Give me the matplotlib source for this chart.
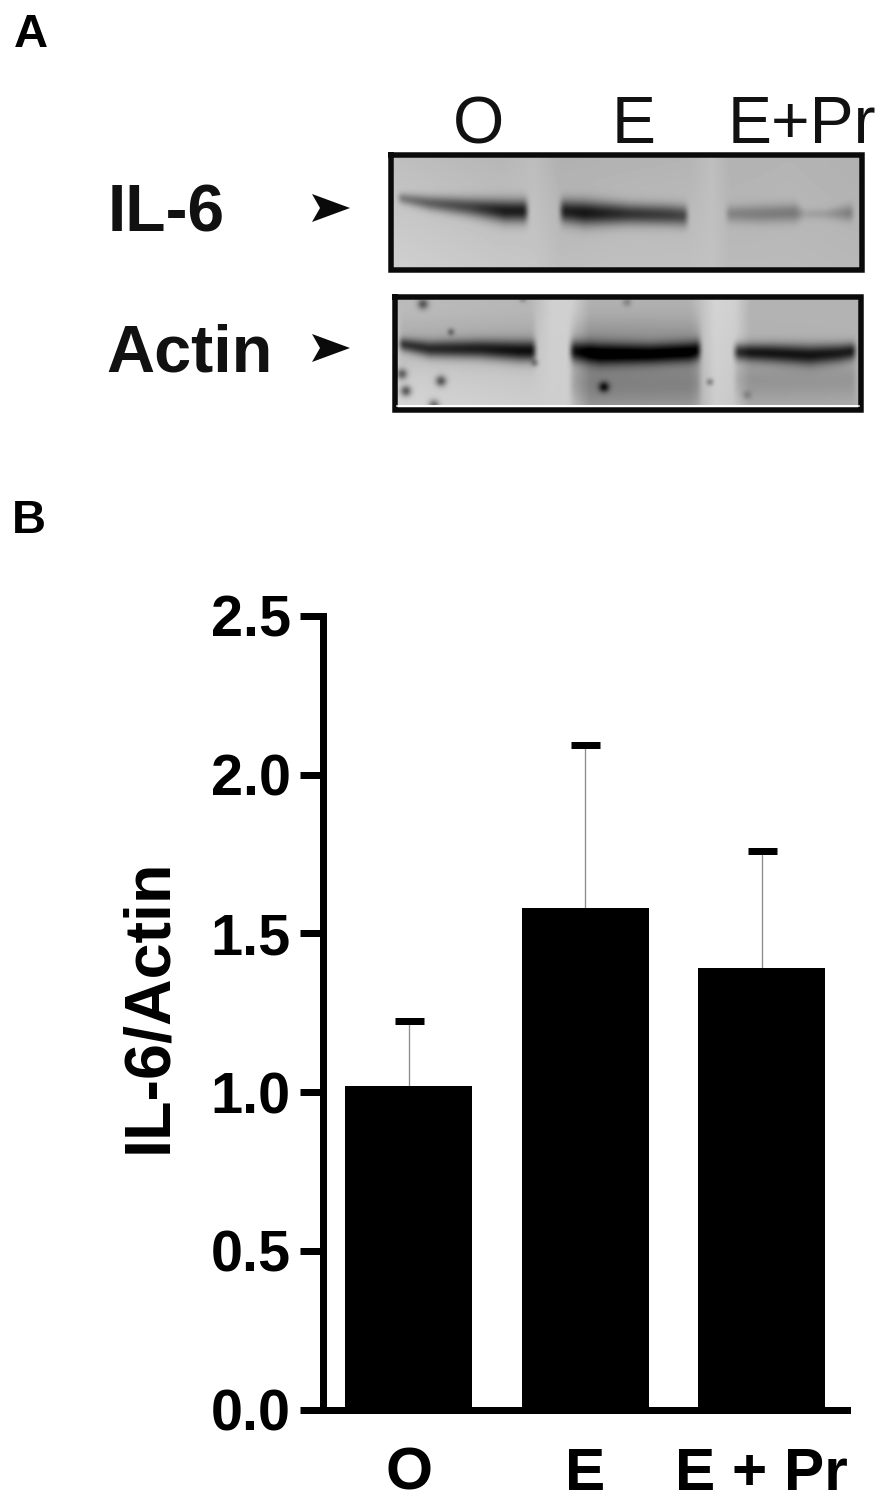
"""Western blot panel (A) and IL-6/Actin densitometry bars (B)."""
import numpy as np
import matplotlib
matplotlib.use("Agg")
import matplotlib.pyplot as plt

W, H = 892, 1509
DPI = 100
PT = 72 / DPI  # points per pixel

plt.rcParams["font.family"] = ["Liberation Sans", "DejaVu Sans"]

# --- data --------------------------------------------------------------
groups = ["O", "E", "E + Pr"]
ratio_mean = [1.02, 1.58, 1.39]
ratio_err = [0.205, 0.515, 0.37]
y_ticks = [0.0, 0.5, 1.0, 1.5, 2.0, 2.5]
blot_lanes = ["O", "E", "E+Pr"]

# blot backgrounds: grey level read along the strip
il6_bg_x = [393, 500, 535, 560, 620, 690, 712, 730, 790, 860]
il6_bg_top = [190, 182, 188, 176, 178, 180, 190, 178, 180, 176]
il6_bg_bottom = [208, 200, 198, 190, 192, 192, 194, 186, 186, 184]
actin_bg_x = [397, 530, 552, 572, 590, 690, 715, 735, 750, 860]
actin_bg_top = [186, 182, 208, 208, 178, 178, 212, 208, 180, 180]
actin_bg_bottom = [212, 205, 206, 205, 162, 165, 205, 200, 172, 175]

# bands: x, y centre, half thickness, darkness, as read from the strip
il6_bands = [
    ([399, 430, 470, 505, 527], [198, 203, 207, 211, 211], [5, 7, 9, 11, 11], [70, 100, 125, 165, 165]),
    ([561, 585, 630, 670, 687], [211, 213, 214, 215, 216], [11, 12, 10, 10, 10], [150, 165, 135, 125, 115]),
    ([727, 760, 795, 805, 825, 850, 853], [214, 214, 213, 214, 214, 213, 213], [8, 9, 9, 5, 5, 8, 8], [50, 58, 62, 20, 25, 55, 45]),
]
actin_bands = [
    ([400, 430, 480, 520, 535], [344, 349, 349, 351, 351], [6, 8, 9, 10, 10], [125, 140, 150, 165, 165]),
    ([571, 600, 650, 690, 700], [351, 354, 354, 352, 350], [10, 11, 10, 10, 10], [165, 172, 165, 165, 160]),
    ([735, 770, 810, 840, 855], [352, 353, 355, 353, 351], [8, 9, 10, 9, 8], [150, 155, 155, 150, 150]),
    # smear around the lanes
    ([400, 535], [340, 340], [22, 22], [22, 22]),
    ([571, 700], [338, 338], [20, 20], [25, 25]),
    ([571, 700], [382, 382], [24, 24], [38, 38]),
    ([735, 855], [380, 380], [20, 20], [26, 26]),
]
# dust specks on the actin strip: x, y, radius, darkness
actin_specks = [
    (423, 304, 5, 110), (451, 332, 3, 90), (402, 374, 5, 120), (406, 391, 5, 130),
    (441, 381, 5, 130), (434, 405, 5, 110), (604, 387, 5, 130), (710, 382, 3, 90),
    (535, 363, 3, 80), (627, 302, 4, 50), (523, 299, 3, 60), (747, 395, 4, 40),
]


def blur(img, n=5):
    kernel = np.ones(n) / n
    pad = n // 2
    out = np.pad(img, pad, mode="edge")
    out = np.apply_along_axis(lambda r: np.convolve(r, kernel, mode="same"), 0, out)
    out = np.apply_along_axis(lambda r: np.convolve(r, kernel, mode="same"), 1, out)
    return out[pad:-pad, pad:-pad]


def strip_image(x0, x1, y0, y1, bg_x, bg_top, bg_bottom, bands, specks=()):
    xs = np.arange(x0, x1) + 0.5
    ys = np.arange(y0, y1) + 0.5
    X, Y = np.meshgrid(xs, ys)
    top = np.interp(xs, bg_x, bg_top)
    bottom = np.interp(xs, bg_x, bg_bottom)
    frac = (ys - y0) / (y1 - y0)
    img = top[None, :] * (1 - frac[:, None]) + bottom[None, :] * frac[:, None]
    for bx, by, bw, bd in bands:
        cy = np.interp(xs, bx, by)
        hw = np.interp(xs, bx, bw)
        dark = np.interp(xs, bx, bd)
        # soft lane ends
        edge = np.clip((xs - bx[0]) / 6 + 0.5, 0, 1) * np.clip((bx[-1] - xs) / 6 + 0.5, 0, 1)
        img = img - (dark * edge)[None, :] * np.exp(-(np.abs(Y - cy[None, :]) / hw[None, :]) ** 2)
    for sx, sy, r, d in specks:
        img = img - d * np.exp(-((X - sx) ** 2 + (Y - sy) ** 2) / r ** 2)
    return np.clip(blur(img), 0, 255)


fig = plt.figure(figsize=(W / DPI, H / DPI), dpi=DPI, facecolor="white")

# --- panel A, drawn in pixel coordinates --------------------------------
ax_a = fig.add_axes([0, 0, 1, 1])
ax_a.set_xlim(0, W)
ax_a.set_ylim(H, 0)
ax_a.axis("off")

img = strip_image(390, 863, 155, 270, il6_bg_x, il6_bg_top, il6_bg_bottom, il6_bands)
ax_a.imshow(img, extent=(390, 863, 270, 155), cmap="gray", vmin=0, vmax=255,
            interpolation="bilinear", aspect="auto", zorder=1)
img = strip_image(395, 862, 297, 405, actin_bg_x, actin_bg_top, actin_bg_bottom,
                  actin_bands, actin_specks)
ax_a.imshow(img, extent=(395, 862, 405, 297), cmap="gray", vmin=0, vmax=255,
            interpolation="bilinear", aspect="auto", zorder=1)
ax_a.set_xlim(0, W)
ax_a.set_ylim(H, 0)

# frames
lw_frame = 5.5 * PT
ax_a.plot([391, 862, 862, 391, 391], [155, 155, 269.5, 269.5, 155], color="#0a0a0a",
          lw=lw_frame, solid_joinstyle="miter", zorder=2)
ax_a.plot([394.5, 861, 861, 394.5, 394.5], [296.5, 296.5, 409.5, 409.5, 296.5], color="#0a0a0a",
          lw=lw_frame, solid_joinstyle="miter", zorder=2)
ax_a.plot([397, 859], [405.5, 405.5], color="white", lw=1.5 * PT, zorder=3)

# arrowheads
for yc in (208, 348):
    ax_a.fill([312, 350, 312, 320], [yc - 14, yc, yc + 14, yc], color="#0a0a0a", lw=0, zorder=2)

ax_a.text(14, 47, "A", fontsize=34, fontweight="bold", ha="left", va="baseline")
ax_a.text(12, 533, "B", fontsize=34, fontweight="bold", ha="left", va="baseline")
ax_a.text(108, 232, "IL-6", fontsize=47.5, fontweight="bold", ha="left", va="baseline", color="#111111")
ax_a.text(106, 371, "Actin", fontsize=48, fontweight="bold", ha="left", va="baseline", color="#111111")
for name, xc in zip(blot_lanes, (478, 634, 802)):
    ax_a.text(xc, 143, name, fontsize=47.5, ha="center", va="baseline", color="#111111")

# --- panel B ------------------------------------------------------------
left, right, top, bottom = 322.5, 847, 616, 1409.5
ax = fig.add_axes([left / W, 1 - bottom / H, (right - left) / W, (bottom - top) / H])
ax.patch.set_alpha(0)
x = np.arange(len(groups))
ax.bar(x, ratio_mean, width=127 / 176.5, color="black", edgecolor="none", zorder=2)
ax.errorbar(x, ratio_mean, yerr=[np.zeros(3), ratio_err], fmt="none", ecolor="#8c8c8c",
            elinewidth=1.3 * PT, capsize=0, zorder=1)
ax.plot(x, np.add(ratio_mean, ratio_err), linestyle="none", marker="_", color="black",
        markersize=29 * PT, markeredgewidth=7 * PT, zorder=3)

# bar centres sit at 408.5, 585, 761.5 px
ax.set_xlim((left - 408.5) / 176.5, (right - 408.5) / 176.5)
ax.set_ylim(0, 2.5)
ax.set_yticks(y_ticks)
ax.set_yticklabels([f"{v:.1f}" for v in y_ticks], fontsize=41.5, fontweight="bold")
ax.set_xticks(x)
ax.set_xticklabels(groups, fontsize=43.5, fontweight="bold")
ax.tick_params(axis="y", length=23.5 * PT, width=7 * PT, pad=8 * PT)
ax.tick_params(axis="x", length=0, pad=37 * PT)
for side in ("top", "right"):
    ax.spines[side].set_visible(False)
for side in ("left", "bottom"):
    ax.spines[side].set_linewidth(7 * PT)
ax.set_ylabel("IL-6/Actin", fontsize=46.5, fontweight="bold", labelpad=32 * PT, y=0.509)

fig.savefig("out.png", dpi=DPI)
plt.close(fig)
